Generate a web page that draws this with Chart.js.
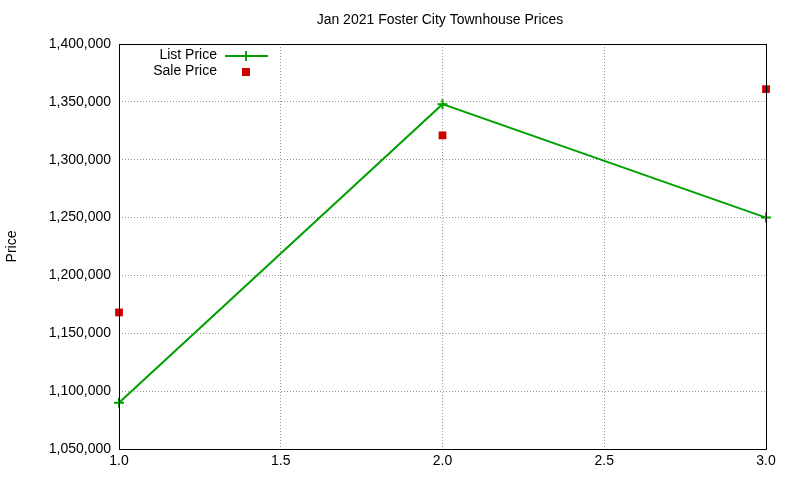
<!DOCTYPE html>
<html><head><meta charset="utf-8">
<script src="https://cdn.jsdelivr.net/npm/chart.js@4"></script>
<style>html,body{margin:0;padding:0;background:#fff}#w{width:800px;height:480px}</style>
</head><body><div id="w"><canvas id="c"></canvas></div>
<script>
const xValues = [1, 2, 3];
const listPrice = [1090000, 1348000, 1250000];
const salePrice = [1168000, 1321000, 1361000];
const chartTitle = 'Jan 2021 Foster City Townhouse Prices';
const seriesNames = ['List Price', 'Sale Price'];
const FONT = '"Liberation Sans", Arial, sans-serif';

const extras = {
  id: 'extras',
  afterDraw(chart) {
    const ctx = chart.ctx, a = chart.chartArea;
    ctx.save();
    ctx.strokeStyle = '#000'; ctx.lineWidth = 1; ctx.setLineDash([]);
    ctx.strokeRect(a.left + 0.5, a.top + 0.5, a.right - a.left, a.bottom - a.top);
    ctx.fillStyle = '#000';
    ctx.font = '14px ' + FONT;
    ctx.textAlign = 'center'; ctx.textBaseline = 'middle';
    ctx.fillText(chartTitle, 440, 20);
    ctx.textAlign = 'right';
    ctx.fillText(seriesNames[0], 217, 55);
    ctx.fillText(seriesNames[1], 217, 71);
    ctx.strokeStyle = '#00a000'; ctx.lineWidth = 2;
    ctx.beginPath(); ctx.moveTo(225, 56); ctx.lineTo(268, 56); ctx.stroke();
    ctx.beginPath(); ctx.moveTo(246, 51); ctx.lineTo(246, 61); ctx.stroke();
    ctx.fillStyle = '#cc0000';
    ctx.fillRect(242, 68, 8, 8);
    ctx.restore();
  }
};

new Chart(document.getElementById('c'), {
  type: 'scatter',
  data: {
    datasets: [
      { label: seriesNames[0], data: xValues.map((x, i) => ({x, y: listPrice[i]})),
        showLine: true, borderColor: '#00a000', backgroundColor: '#00a000', borderWidth: 2,
        pointStyle: 'cross', pointRadius: 5, pointBorderWidth: 2, tension: 0 },
      { label: seriesNames[1], data: xValues.map((x, i) => ({x, y: salePrice[i]})),
        showLine: false, borderColor: '#cc0000', backgroundColor: '#cc0000',
        pointStyle: 'rect', pointRadius: 5.5, pointBorderWidth: 0 }
    ]
  },
  options: {
    responsive: true, maintainAspectRatio: false, animation: false,
    clip: false,
    layout: { padding: { left: 0, right: 34, top: 44, bottom: 0 } },
    plugins: { legend: { display: false }, title: { display: false }, tooltip: { enabled: false } },
    scales: {
      x: {
        type: 'linear', min: 1, max: 3,
        ticks: { stepSize: 0.5, color: '#000', font: { family: FONT, size: 14 }, padding: 4 },
        grid: { color: '#999', borderDash: [1, 2], drawTicks: false },
        border: { display: false, dash: [1, 2] },
        afterFit(s) { s.height = 31; }
      },
      y: {
        min: 1050000, max: 1400000,
        ticks: { stepSize: 50000, color: '#000', font: { family: FONT, size: 14 }, padding: 8 },
        grid: { color: '#999', drawTicks: false },
        border: { display: false, dash: [1, 2] },
        title: { display: true, text: 'Price', color: '#000', font: { family: FONT, size: 14 } },
        afterFit(s) { s.width = 119; }
      }
    }
  },
  plugins: [extras]
});
</script></body></html>
